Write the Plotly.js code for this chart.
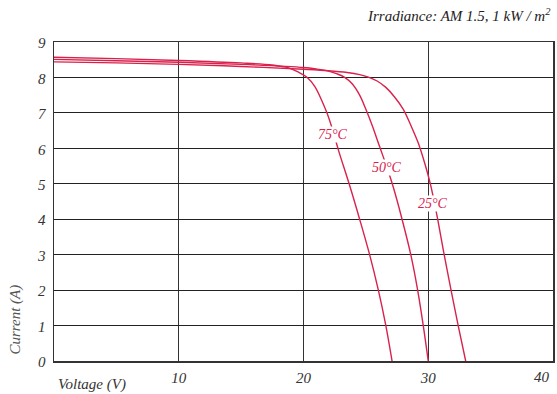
<!DOCTYPE html>
<html><head><meta charset="utf-8">
<script src="https://cdn.plot.ly/plotly-3.0.1.min.js"></script>
<style>html,body{margin:0;padding:0;background:#fff}#chart{width:557px;height:394px}</style>
</head><body><div id="chart"></div>
<script>
const v75 = [0, 5, 10, 15, 17.5, 18.8, 19.6, 20.3, 20.9, 21.4, 21.9, 22.35, 22.8, 23.7, 24.5, 25.3, 26.0, 26.6, 27.1];
const i75 = [8.57, 8.53, 8.48, 8.41, 8.35, 8.27, 8.15, 8.0, 7.75, 7.4, 6.98, 6.5, 5.95, 4.95, 4.0, 3.0, 2.0, 1.0, 0];
const v50 = [0, 5, 10, 15, 20, 21, 22, 22.7, 23.3, 23.9, 24.5, 25.0, 25.5, 26.1, 26.7, 27.2, 27.9, 28.6, 29.15, 29.6, 30.0];
const i50 = [8.51, 8.47, 8.43, 8.37, 8.28, 8.24, 8.18, 8.1, 8.0, 7.82, 7.5, 7.1, 6.65, 6.05, 5.45, 4.9, 4.0, 3.0, 2.0, 1.0, 0];
const v25 = [0, 5, 10, 15, 20, 22, 23.5, 24.5, 25.2, 25.9, 26.6, 27.3, 28.0, 28.6, 29.2, 29.7, 30.2, 30.7, 31.25, 31.8, 32.4, 33.0];
const i25 = [8.44, 8.41, 8.37, 8.31, 8.23, 8.19, 8.14, 8.08, 8.01, 7.9, 7.72, 7.45, 7.1, 6.65, 6.15, 5.6, 4.95, 4.1, 3.05, 2.05, 1.0, 0];
const curveLabels = ['75°C', '50°C', '25°C'];
const labelV = [22.4, 26.7, 30.4];
const labelI = [6.4, 5.45, 4.45];
const xTicks = [10, 20, 30, 40];
const xTickText = ['10', '20', '30', '40'];
const yTicks = [0, 1, 2, 3, 4, 5, 6, 7, 8, 9];

const red = '#d8224c';
const font = 'Liberation Serif, DejaVu Serif, serif';
const tickFont = {family: font, size: 15, color: '#333', style: 'italic'};
const mk = (x, y) => ({x, y, type: 'scatter', mode: 'lines', line: {color: red, width: 1.4, shape: 'spline', smoothing: 1}, hoverinfo: 'skip', showlegend: false});
const data = [mk(v75, i75), mk(v50, i50), mk(v25, i25)];

const annotations = curveLabels.map((t, k) => ({
  x: labelV[k], y: labelI[k], xref: 'x', yref: 'y', text: t, showarrow: false,
  font: {family: font, size: 14, color: red, style: 'italic'}, bgcolor: '#fff', borderpad: 0
}));
// last x tick label drawn right-aligned at the axis end so it stays inside the picture
const lastIdx = xTicks.length - 1;
annotations.push({xref: 'x', yref: 'paper', x: xTicks[lastIdx], y: -0.05, xanchor: 'right', yanchor: 'middle', xshift: -1,
  text: xTickText[lastIdx], showarrow: false, font: tickFont});
annotations.push({xref: 'paper', yref: 'paper', x: 0.005, y: -0.075, xanchor: 'left', yanchor: 'middle',
  text: 'Voltage (V)', showarrow: false, font: {family: font, size: 15, color: '#333', style: 'italic'}});
annotations.push({xref: 'paper', yref: 'paper', x: -0.078, y: 0.13, xanchor: 'center', yanchor: 'middle', textangle: -90,
  text: 'Current (A)', showarrow: false, font: {family: font, size: 15, color: '#555', style: 'italic'}});
annotations.push({xref: 'paper', yref: 'paper', x: 1.0, y: 1.085, xanchor: 'right', yanchor: 'middle',
  text: 'Irradiance: AM 1.5, 1 kW / m<sup>2</sup>', showarrow: false, font: {family: font, size: 15, color: '#222', style: 'italic'}});

const layout = {
  width: 557, height: 394,
  margin: {l: 54, r: 4, t: 42, b: 33},
  paper_bgcolor: '#fff', plot_bgcolor: '#fff',
  xaxis: {range: [0, 40], tickvals: xTicks, ticktext: xTickText.map((t, k) => k === lastIdx ? '' : t), showgrid: true, gridcolor: '#333', gridwidth: 1.2,
    showline: true, linecolor: '#333', linewidth: 1.5, mirror: true, zeroline: false, ticks: '',
    tickfont: tickFont, ticklabelstandoff: 2},
  yaxis: {range: [0, 9], tickvals: yTicks, ticktext: yTicks.map(String), showgrid: true, gridcolor: '#222', gridwidth: 1.2,
    showline: true, linecolor: '#333', linewidth: 1.5, mirror: true, zeroline: false, ticks: '',
    tickfont: tickFont, ticklabelstandoff: 4, ticklabelshift: 1, ticklabeloverflow: 'allow'},
  annotations
};
Plotly.newPlot('chart', data, layout, {staticPlot: true, displayModeBar: false});
</script></body></html>
